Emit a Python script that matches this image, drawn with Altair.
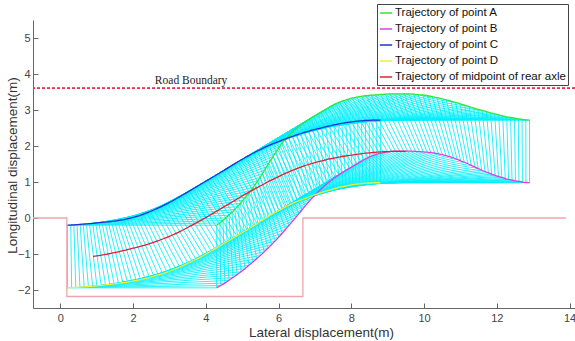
import altair as alt
import numpy as np
import pandas as pd

# ---------------- data ----------------
# rear-axle midpoint pose at each step
rear_x = [0.9, 1.0, 1.1, 1.2, 1.3, 1.4, 1.5, 1.6, 1.7, 1.8, 1.9, 2.0, 2.1, 2.2, 2.3, 2.4,
          2.5, 2.6, 2.7, 2.8, 2.9, 3.0, 3.1, 3.2, 3.3, 3.4, 3.5, 3.6, 3.7, 3.8, 3.9, 4.0,
          4.1, 4.2, 4.3, 4.4, 4.5, 4.6, 4.7, 4.8, 4.9, 5.0, 5.1, 5.2, 5.3, 5.4, 5.5, 5.6,
          5.7, 5.8, 5.9, 6.0, 6.1, 6.2, 6.3, 6.4, 6.5, 6.6, 6.7, 6.8, 6.9, 7.0, 7.1, 7.2,
          7.3, 7.4, 7.5, 7.6, 7.7, 7.8, 7.9, 8.0, 8.1, 8.2, 8.3, 8.4, 8.5, 8.6, 8.7, 8.8,
          8.9, 9.0, 9.1, 9.2, 9.3, 9.4, 9.5]
rear_y = [-1.07, -1.055, -1.04, -1.02, -1.0, -0.98, -0.96, -0.94, -0.915, -0.89, -0.865,
          -0.84, -0.815, -0.79, -0.76, -0.73, -0.70, -0.665, -0.63, -0.59, -0.55, -0.51,
          -0.465, -0.42, -0.37, -0.32, -0.265, -0.21, -0.155, -0.10, -0.045, 0.01, 0.07,
          0.13, 0.19, 0.25, 0.31, 0.37, 0.43, 0.49, 0.55, 0.61, 0.67, 0.725, 0.78, 0.835,
          0.89, 0.945, 1.0, 1.05, 1.10, 1.15, 1.20, 1.245, 1.29, 1.33, 1.37, 1.41, 1.445,
          1.48, 1.51, 1.54, 1.565, 1.59, 1.615, 1.64, 1.66, 1.68, 1.70, 1.715, 1.73, 1.745,
          1.76, 1.775, 1.79, 1.80, 1.81, 1.82, 1.83, 1.835, 1.84, 1.845, 1.85, 1.85, 1.85,
          1.85, 1.85]
heading_deg = [0, 0.8, 1.7, 2.6, 3.6, 4.6, 5.6, 6.7, 7.8, 8.9, 10.0, 11.1, 12.3, 13.5, 14.7,
               15.9, 17.1, 18.3, 19.5, 20.7, 21.8, 22.9, 24.0, 25.0, 26.0, 26.9, 27.7, 28.4,
               29.0, 29.6, 30.1, 30.5, 30.8, 31.0, 31.1, 31.2, 31.2, 31.2, 31.2, 31.2, 31.2,
               31.2, 31.1, 30.9, 30.6, 30.2, 29.7, 29.1, 28.4, 27.6, 26.8, 26.0, 25.2, 24.4,
               23.6, 22.8, 22, 21.2, 20.4, 19.6, 18.8, 18, 17.1, 16.2, 15.2, 14.2, 13.2, 12.2,
               11.2, 10.2, 9.2, 8.2, 7.3, 6.4, 5.6, 4.8, 4.1, 3.4, 2.8, 2.2, 1.7, 1.3, 0.9,
               0.6, 0.3, 0.1, 0]
front_len = 3.4     # rear axle -> front edge
rear_len = 0.7      # rear axle -> rear edge
half_width = 0.87

series_names = ["Trajectory of point A", "Trajectory of point B", "Trajectory of point C",
                "Trajectory of point D", "Trajectory of midpoint of rear axle"]
series_colors = ["#2ee83a", "#e03ce0", "#1f33d4", "#eef035", "#e02035"]

slot_x = [-0.75, 0.18, 0.18, 6.67, 6.67, 13.9]
slot_y = [0, 0, -2.18, -2.18, 0, 0]
road_y = 3.6
road_label = ["Road Boundary"]
road_label_x = [2.6]
road_label_y = [3.72]

x_ticks = [0, 2, 4, 6, 8, 10, 12, 14]
y_ticks = [-2, -1, 0, 1, 2, 3, 4, 5]
x_domain = [-0.75, 14.15]
y_domain = [-2.5, 5.5]

# ---------------- geometry of the vehicle outline ----------------
xr = np.array(rear_x)
yr = np.array(rear_y)
th = np.radians(np.array(heading_deg))
c, s = np.cos(th), np.sin(th)
A = (xr + front_len * c - half_width * s, yr + front_len * s + half_width * c)
B = (xr + front_len * c + half_width * s, yr + front_len * s - half_width * c)
C = (xr - rear_len * c - half_width * s, yr - rear_len * s + half_width * c)
D = (xr - rear_len * c + half_width * s, yr - rear_len * s - half_width * c)

edges = []
for P, Q in [(A, B), (B, D), (D, C), (C, A)]:
    for i in range(len(xr)):
        edges.append({"x": P[0][i], "y": P[1][i], "x2": Q[0][i], "y2": Q[1][i]})
edges = pd.DataFrame(edges)

traj = []
for name, P in zip(series_names, [A, B, C, D, (xr, yr)]):
    for i in range(len(xr)):
        traj.append({"series": name, "step": i, "x": P[0][i], "y": P[1][i]})
traj = pd.DataFrame(traj)

slot = pd.DataFrame({"x": slot_x, "y": slot_y, "k": list(range(len(slot_x)))})
label_df = pd.DataFrame({"x": road_label_x, "y": road_label_y, "t": road_label})

xs = alt.Scale(domain=x_domain, nice=False, zero=False)
ys = alt.Scale(domain=y_domain, nice=False, zero=False)
FONT = "Liberation Sans"

main_x_axis = alt.Axis(values=x_ticks, ticks=False, grid=False, domainColor="#666666",
                       labelColor="#444444", labelFont=FONT, labelFontSize=11,
                       labelPadding=4, title="Lateral displacement(m)", titleFont=FONT,
                       titleFontSize=13.5, titleFontWeight="normal", titleColor="#333333",
                       titleX=288, titleY=17, titleAnchor="middle")
main_y_axis = alt.Axis(values=y_ticks, ticks=False, grid=False, domainColor="#666666",
                       labelColor="#444444", labelFont=FONT, labelFontSize=11,
                       labelPadding=3, title="Longitudinal displacement(m)", titleFont=FONT,
                       titleFontSize=13.5, titleFontWeight="normal", titleColor="#333333",
                       titleX=-17, titleY=145, titleAngle=-90, titleAnchor="middle",
                       titleBaseline="alphabetic")
tick_x_axis = alt.Axis(orient="bottom", values=x_ticks, offset=-5, domain=False, labels=False,
                       ticks=True, tickSize=5, tickColor="#666666", grid=False, title=None)
tick_y_axis = alt.Axis(orient="left", values=y_ticks, offset=-5, domain=False, labels=False,
                       ticks=True, tickSize=5, tickColor="#666666", grid=False, title=None)

outline = alt.Chart(edges).mark_rule(color="#00effc", strokeWidth=0.9, opacity=0.95).encode(
    x=alt.X("x:Q", scale=xs, axis=main_x_axis),
    y=alt.Y("y:Q", scale=ys, axis=main_y_axis),
    x2="x2:Q", y2="y2:Q")

slot_layer = alt.Chart(slot).mark_line(color="#f2a4ac", strokeWidth=1.3).encode(
    x=alt.X("x:Q", scale=xs, axis=tick_x_axis),
    y=alt.Y("y:Q", scale=ys, axis=tick_y_axis),
    order="k:Q")

road = alt.Chart(slot).mark_rule(color="#f0304f", strokeDash=[3, 2], strokeWidth=1.2).encode(
    y=alt.datum(road_y, scale=ys, axis=None))

road_text = alt.Chart(label_df).mark_text(font="Liberation Serif", fontSize=11.5, align="left",
                                          baseline="alphabetic", color="#222222").encode(
    x=alt.X("x:Q", scale=xs, axis=None), y=alt.Y("y:Q", scale=ys, axis=None), text="t:N")

lines = alt.Chart(traj).mark_line(strokeWidth=1.3, interpolate="basis").encode(
    x=alt.X("x:Q", scale=xs, axis=None),
    y=alt.Y("y:Q", scale=ys, axis=None),
    color=alt.Color("series:N", scale=alt.Scale(domain=series_names, range=series_colors),
                    sort=series_names,
                    legend=alt.Legend(title=None, orient="none", legendX=344, legendY=-16,
                                      symbolType="stroke", symbolSize=150, symbolStrokeWidth=1.5,
                                      labelFont=FONT, labelFontSize=11.5, labelColor="#111111",
                                      labelOffset=2, labelLimit=400, rowPadding=3,
                                      strokeColor="#444444", fillColor="white", padding=2,
                                      cornerRadius=0)),
    order="step:Q")

chart = alt.layer(outline, slot_layer, road, road_text, lines).resolve_axis(
    x="independent", y="independent").properties(
    width=542, height=288,
    autosize=alt.AutoSizeParams(type="none"),
    padding={"left": 33, "top": 20, "right": 0, "bottom": 33},
    background="white").configure_view(stroke=None)

chart.save("out.html", embed_options={"renderer": "svg", "actions": False})
